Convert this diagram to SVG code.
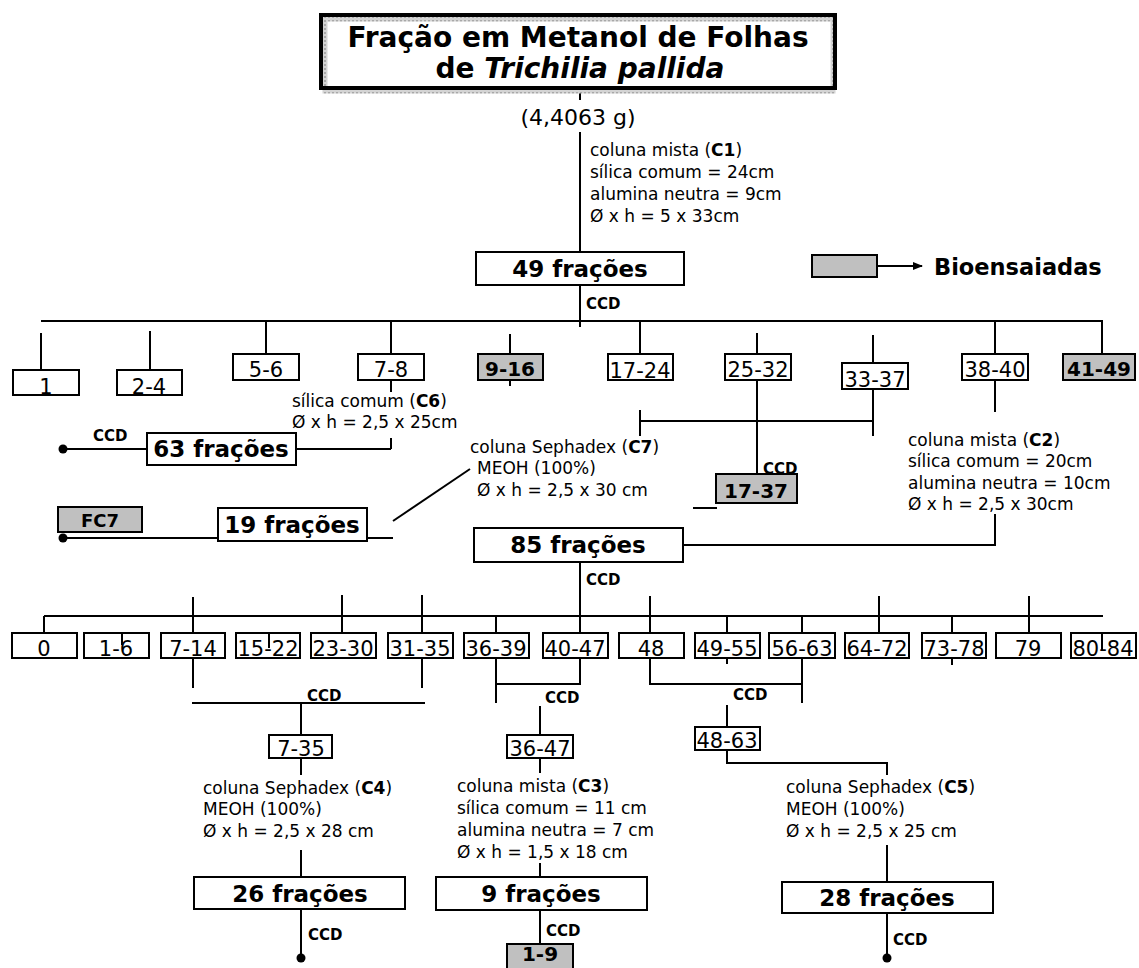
<svg xmlns="http://www.w3.org/2000/svg" width="1139" height="968" viewBox="0 0 1139 968">
<defs>
<pattern id="hatch" width="4" height="4" patternUnits="userSpaceOnUse"><rect width="4" height="4" fill="#d4d4d4"/><rect width="2" height="2" fill="#a8a8a8"/></pattern>
<marker id="arr" markerWidth="10" markerHeight="8" refX="9" refY="4" orient="auto" markerUnits="userSpaceOnUse"><path d="M0,0 L10,4 L0,8 z" fill="#000"/></marker>
<style>
.ln{stroke:#000;stroke-width:2;fill:none}
.bx{fill:#fff;stroke:#000;stroke-width:2}
.gb{fill:#c0c0c0;stroke:#000;stroke-width:2}
text{font-family:"DejaVu Sans",Verdana,sans-serif;fill:#000}
.lbl{font-size:21px;text-anchor:middle}
.blbl{font-size:20px;font-weight:bold;text-anchor:middle}
.big{font-size:23px;font-weight:bold;text-anchor:middle}
.ann{font-size:17px}
.ccd{font-size:15px;font-weight:bold}
.ttl{font-size:28px;font-weight:bold;text-anchor:middle}
</style>
</defs>
<rect width="1139" height="968" fill="#fff"/>

<g id="connectors">
<line class="ln" x1="580" y1="88" x2="580" y2="100"/>
<line class="ln" x1="580" y1="132" x2="580" y2="252"/>
<line class="ln" x1="580" y1="285" x2="580" y2="327"/>
<line class="ln" x1="41" y1="321" x2="1103" y2="321"/>
<line class="ln" x1="41" y1="333" x2="41" y2="370"/>
<line class="ln" x1="150" y1="331" x2="150" y2="370"/>
<line class="ln" x1="266" y1="321" x2="266" y2="354"/>
<line class="ln" x1="391" y1="321" x2="391" y2="354"/>
<line class="ln" x1="510" y1="334" x2="510" y2="354"/>
<line class="ln" x1="510" y1="380" x2="510" y2="386"/>
<line class="ln" x1="640" y1="321" x2="640" y2="354"/>
<line class="ln" x1="757" y1="333" x2="757" y2="354"/>
<line class="ln" x1="873" y1="335" x2="873" y2="363"/>
<line class="ln" x1="995" y1="321" x2="995" y2="354"/>
<line class="ln" x1="1102" y1="321" x2="1102" y2="354"/>
<line class="ln" x1="391" y1="380" x2="391" y2="392"/>
<line class="ln" x1="391" y1="438" x2="391" y2="449"/>
<polyline class="ln" points="296,449 391,449"/>
<line class="ln" x1="63" y1="449" x2="147" y2="449"/>
<circle cx="63" cy="449" r="4.5" fill="#000"/>
<line class="ln" x1="63" y1="538" x2="393" y2="538"/>
<circle cx="63" cy="538" r="4.5" fill="#000"/>
<line class="ln" x1="393" y1="521" x2="470" y2="469"/>
<line class="ln" x1="640" y1="410" x2="640" y2="436"/>
<line class="ln" x1="757" y1="380" x2="757" y2="474"/>
<line class="ln" x1="873" y1="389" x2="873" y2="436"/>
<line class="ln" x1="640" y1="421" x2="873" y2="421"/>
<line class="ln" x1="693" y1="508" x2="717" y2="508"/>
<line class="ln" x1="995" y1="380" x2="995" y2="412"/>
<polyline class="ln" points="995,514 995,545 683,545"/>
<line class="ln" x1="580" y1="562" x2="580" y2="633"/>
<line class="ln" x1="44" y1="616" x2="1103" y2="616"/>
<line class="ln" x1="44" y1="616" x2="44" y2="633"/>
<line class="ln" x1="193" y1="597" x2="193" y2="633"/>
<line class="ln" x1="342" y1="595" x2="342" y2="633"/>
<line class="ln" x1="422" y1="595" x2="422" y2="633"/>
<line class="ln" x1="496" y1="616" x2="496" y2="633"/>
<line class="ln" x1="650" y1="596" x2="650" y2="633"/>
<line class="ln" x1="727" y1="616" x2="727" y2="633"/>
<line class="ln" x1="802" y1="616" x2="802" y2="633"/>
<line class="ln" x1="879" y1="596" x2="879" y2="633"/>
<line class="ln" x1="952" y1="616" x2="952" y2="633"/>
<line class="ln" x1="1029" y1="596" x2="1029" y2="633"/>
<line class="ln" x1="193" y1="658" x2="193" y2="688"/>
<line class="ln" x1="422" y1="658" x2="422" y2="688"/>
<line class="ln" x1="192" y1="703" x2="425" y2="703"/>
<line class="ln" x1="301" y1="703" x2="301" y2="735"/>
<line class="ln" x1="301" y1="758" x2="301" y2="775"/>
<line class="ln" x1="301" y1="850" x2="301" y2="877"/>
<line class="ln" x1="301" y1="909" x2="301" y2="957"/>
<circle cx="301" cy="958" r="4.5" fill="#000"/>
<line class="ln" x1="496" y1="658" x2="496" y2="703"/>
<polyline class="ln" points="496,684 580,684 580,658"/>
<line class="ln" x1="540" y1="706" x2="540" y2="735"/>
<line class="ln" x1="540" y1="758" x2="540" y2="773"/>
<line class="ln" x1="540" y1="863" x2="540" y2="877"/>
<line class="ln" x1="540" y1="910" x2="540" y2="944"/>
<polyline class="ln" points="650,658 650,684 802,684"/>
<line class="ln" x1="802" y1="658" x2="802" y2="703"/>
<line class="ln" x1="727" y1="705" x2="727" y2="727"/>
<polyline class="ln" points="727,750 727,763 887,763 887,775"/>
<line class="ln" x1="887" y1="845" x2="887" y2="882"/>
<line class="ln" x1="887" y1="913" x2="887" y2="957"/>
<circle cx="887" cy="958" r="4.5" fill="#000"/>
<line class="ln" x1="878" y1="266" x2="922" y2="266" marker-end="url(#arr)"/>
</g>

<g id="title">
<rect x="325" y="19" width="508" height="72" fill="none" stroke="url(#hatch)" stroke-width="5"/>
<rect x="321" y="15" width="514" height="73" fill="none" stroke="#000" stroke-width="4"/>
<text class="ttl" x="578" y="47">Fração em Metanol de Folhas</text>
<text class="ttl" x="580" y="78">de <tspan font-style="italic">Trichilia pallida</tspan></text>
</g>
<g id="mass"><text x="578" y="125" font-size="22" text-anchor="middle">(4,4063 g)</text></g>
<g id="c1">
<text class="ann" x="590" y="156">coluna mista (<tspan font-weight="bold">C1</tspan>)</text>
<text class="ann" x="590" y="178">sílica comum = 24cm</text>
<text class="ann" x="590" y="200">alumina neutra = 9cm</text>
<text class="ann" x="590" y="222">Ø x h = 5 x 33cm</text>
</g>
<g id="n49"><rect class="bx" x="476" y="252" width="208" height="33"/><text class="big" x="580" y="277">49 frações</text></g>
<g id="legend"><rect class="gb" x="812" y="255" width="65" height="22"/><text x="934" y="275" font-size="22.5" font-weight="bold">Bioensaiadas</text></g>
<text class="ccd" x="586" y="309">CCD</text>

<g id="r1-1"><rect class="bx" x="13" y="370" width="66" height="25"/><text class="lbl" x="46" y="394">1</text></g>
<g id="r1-2-4"><rect class="bx" x="117" y="370" width="65" height="25"/><text class="lbl" x="149" y="394">2-4</text></g>
<g id="r1-5-6"><rect class="bx" x="233" y="354" width="66" height="26"/><text class="lbl" x="266" y="377">5-6</text></g>
<g id="r1-7-8"><rect class="bx" x="358" y="354" width="66" height="26"/><text class="lbl" x="391" y="377">7-8</text></g>
<g id="r1-9-16"><rect class="gb" x="478" y="354" width="65" height="26"/><text class="blbl" x="510" y="376">9-16</text></g>
<g id="r1-17-24"><rect class="bx" x="608" y="354" width="65" height="26"/><text class="lbl" x="640" y="378">17-24</text></g>
<g id="r1-25-32"><rect class="bx" x="725" y="354" width="66" height="26"/><text class="lbl" x="758" y="377">25-32</text></g>
<g id="r1-33-37"><rect class="bx" x="842" y="363" width="66" height="26"/><text class="lbl" x="875" y="387">33-37</text></g>
<g id="r1-38-40"><rect class="bx" x="962" y="354" width="66" height="26"/><text class="lbl" x="995" y="377">38-40</text></g>
<g id="r1-41-49"><rect class="gb" x="1063" y="354" width="72" height="26"/><text class="blbl" x="1099" y="376">41-49</text></g>

<g id="c6">
<text class="ann" x="292" y="407">sílica comum (<tspan font-weight="bold">C6</tspan>)</text>
<text class="ann" x="292" y="428">Ø x h = 2,5 x 25cm</text>
</g>
<g id="n63"><rect class="bx" x="147" y="433" width="149" height="32"/><text class="big" x="221" y="457">63 frações</text></g>
<text class="ccd" x="93" y="441">CCD</text>
<g id="fc7"><rect class="gb" x="58" y="507" width="84" height="25"/><text x="100" y="527" font-size="18" font-weight="bold" text-anchor="middle">FC7</text></g>
<g id="n19"><rect class="bx" x="218" y="508" width="149" height="33"/><text class="big" x="292" y="533">19 frações</text></g>
<g id="c7">
<text class="ann" x="470" y="453">coluna Sephadex (<tspan font-weight="bold">C7</tspan>)</text>
<text class="ann" x="477" y="474">MEOH (100%)</text>
<text class="ann" x="477" y="496">Ø x h = 2,5 x 30 cm</text>
</g>
<g id="n17-37"><rect class="gb" x="716" y="474" width="81" height="29"/><text class="blbl" x="756" y="498" font-size="21">17-37</text></g>
<text class="ccd" x="763" y="474">CCD</text>
<g id="c2">
<text class="ann" x="908" y="446">coluna mista (<tspan font-weight="bold">C2</tspan>)</text>
<text class="ann" x="908" y="467">sílica comum = 20cm</text>
<text class="ann" x="908" y="489">alumina neutra = 10cm</text>
<text class="ann" x="908" y="510">Ø x h = 2,5 x 30cm</text>
</g>
<g id="n85"><rect class="bx" x="474" y="528" width="209" height="34"/><text class="big" x="578" y="553">85 frações</text></g>
<text class="ccd" x="586" y="585">CCD</text>

<g id="r2-0"><rect class="bx" x="12" y="633" width="65" height="25"/><text class="lbl" x="44" y="656">0</text></g>
<g id="r2-1-6"><rect class="bx" x="84" y="633" width="65" height="25"/><text class="lbl" x="116" y="656">1-6</text></g>
<g id="r2-7-14"><rect class="bx" x="161" y="633" width="64" height="25"/><text class="lbl" x="193" y="656">7-14</text></g>
<g id="r2-15-22"><rect class="bx" x="236" y="633" width="64" height="25"/><text class="lbl" x="268" y="656">15-22</text></g>
<g id="r2-23-30"><rect class="bx" x="311" y="633" width="65" height="25"/><text class="lbl" x="343" y="656">23-30</text></g>
<g id="r2-31-35"><rect class="bx" x="388" y="633" width="65" height="25"/><text class="lbl" x="420" y="656">31-35</text></g>
<g id="r2-36-39"><rect class="bx" x="464" y="633" width="65" height="25"/><text class="lbl" x="496" y="656">36-39</text></g>
<g id="r2-40-47"><rect class="bx" x="543" y="633" width="65" height="25"/><text class="lbl" x="575" y="656">40-47</text></g>
<g id="r2-48"><rect class="bx" x="619" y="633" width="65" height="25"/><text class="lbl" x="651" y="656">48</text></g>
<g id="r2-49-55"><rect class="bx" x="695" y="633" width="65" height="25"/><text class="lbl" x="727" y="656">49-55</text></g>
<g id="r2-56-63"><rect class="bx" x="769" y="633" width="66" height="25"/><text class="lbl" x="802" y="656">56-63</text></g>
<g id="r2-64-72"><rect class="bx" x="845" y="633" width="64" height="25"/><text class="lbl" x="877" y="656">64-72</text></g>
<g id="r2-73-78"><rect class="bx" x="922" y="633" width="64" height="25"/><text class="lbl" x="954" y="656">73-78</text></g>
<g id="r2-79"><rect class="bx" x="996" y="633" width="65" height="25"/><text class="lbl" x="1028" y="656">79</text></g>
<g id="r2-80-84"><rect class="bx" x="1071" y="633" width="65" height="25"/><text class="lbl" x="1103" y="656">80-84</text></g>
<g id="over-ticks">
<line class="ln" x1="122" y1="633" x2="122" y2="645"/>
<line class="ln" x1="269" y1="633" x2="269" y2="648"/>
<line class="ln" x1="1102" y1="633" x2="1102" y2="650"/>
<line class="ln" x1="727" y1="658" x2="727" y2="664"/>
<line class="ln" x1="952" y1="658" x2="952" y2="665"/>
</g>

<text class="ccd" x="307" y="701">CCD</text>
<g id="n7-35"><rect class="bx" x="269" y="735" width="63" height="23"/><text class="lbl" x="301" y="756">7-35</text></g>
<g id="c4">
<text class="ann" x="203" y="794">coluna Sephadex (<tspan font-weight="bold">C4</tspan>)</text>
<text class="ann" x="203" y="815">MEOH (100%)</text>
<text class="ann" x="203" y="837">Ø x h = 2,5 x 28 cm</text>
</g>
<g id="n26"><rect class="bx" x="194" y="877" width="211" height="32"/><text class="big" x="300" y="902">26 frações</text></g>
<text class="ccd" x="308" y="940">CCD</text>

<text class="ccd" x="545" y="703">CCD</text>
<g id="n36-47"><rect class="bx" x="507" y="735" width="66" height="23"/><text class="lbl" x="540" y="756">36-47</text></g>
<g id="c3">
<text class="ann" x="457" y="792">coluna mista (<tspan font-weight="bold">C3</tspan>)</text>
<text class="ann" x="457" y="814">sílica comum = 11 cm</text>
<text class="ann" x="457" y="836">alumina neutra = 7 cm</text>
<text class="ann" x="457" y="858">Ø x h = 1,5 x 18 cm</text>
</g>
<g id="n9"><rect class="bx" x="436" y="877" width="211" height="33"/><text class="big" x="541" y="902">9 frações</text></g>
<text class="ccd" x="546" y="936">CCD</text>
<g id="n1-9"><rect class="gb" x="507" y="944" width="66" height="30"/><text class="blbl" x="540" y="961" font-size="18">1-9</text></g>

<text class="ccd" x="733" y="700">CCD</text>
<g id="n48-63"><rect class="bx" x="695" y="727" width="65" height="23"/><text class="lbl" x="727" y="748">48-63</text></g>
<g id="c5">
<text class="ann" x="786" y="793">coluna Sephadex (<tspan font-weight="bold">C5</tspan>)</text>
<text class="ann" x="786" y="815">MEOH (100%)</text>
<text class="ann" x="786" y="837">Ø x h = 2,5 x 25 cm</text>
</g>
<g id="n28"><rect class="bx" x="782" y="882" width="211" height="31"/><text class="big" x="887" y="906">28 frações</text></g>
<text class="ccd" x="893" y="945">CCD</text>
</svg>
